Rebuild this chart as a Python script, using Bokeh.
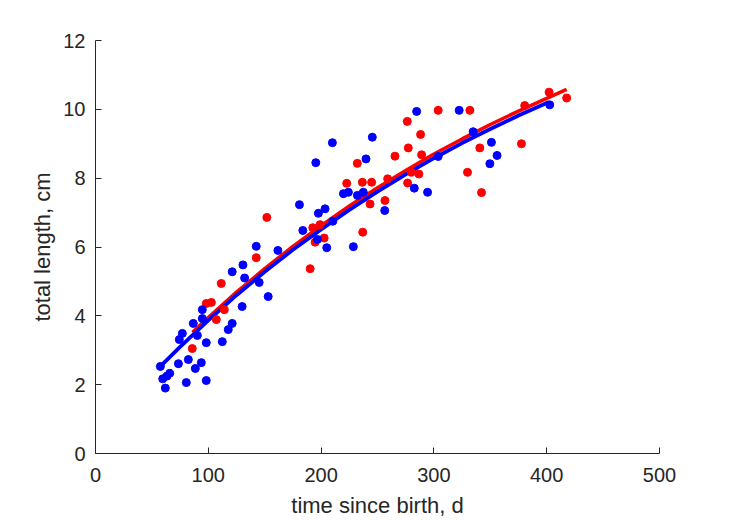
from bokeh.plotting import figure
from bokeh.models import FixedTicker, Range1d
from bokeh.embed import file_html
from bokeh.resources import INLINE

# ---- data ----
blue_t = [57.5, 59.6, 61.9, 63.4, 65.8, 73.5, 80.5, 82.3, 88.5, 93.8, 98.2,
          74.3, 77.0, 86.7, 90.3, 98.2, 94.7, 94.7, 112.4, 117.7, 121.2, 130.0,
          145.1, 153.1, 132.2, 142.5, 161.7, 130.7, 121.2, 180.8, 183.8, 197.6,
          203.5, 210.4, 196.7, 205.0, 219.8, 224.2, 232.2, 237.4, 256.4, 228.6,
          210.0, 195.3, 245.4, 239.8, 284.7, 322.4, 303.8, 334.8, 351.0, 356.0,
          349.6, 402.7, 282.6, 294.4]
blue_len = [2.53, 2.17, 1.90, 2.25, 2.33, 2.61, 2.06, 2.73, 2.47, 2.64, 2.12,
            3.31, 3.49, 3.78, 3.43, 3.22, 3.92, 4.18, 3.25, 3.60, 3.78, 4.27,
            4.97, 4.56, 5.10, 6.02, 5.90, 5.48, 5.28, 7.23, 6.48, 6.98,
            7.11, 6.75, 6.22, 5.98, 7.55, 7.59, 7.50, 7.59, 7.06, 6.01,
            9.03, 8.45, 9.19, 8.56, 9.94, 9.97, 8.63, 9.35, 9.04, 8.66,
            8.42, 10.13, 7.71, 7.59]

red_t = [111.5, 98.2, 102.7, 114.2, 107.1, 85.8, 151.9, 142.5, 192.6, 199.1,
         194.7, 202.7, 190.3, 222.7, 236.6, 244.8, 243.4, 256.6, 236.9, 259.0,
         232.1, 265.5, 303.8, 331.9, 276.4, 288.2, 277.3, 289.1, 340.7, 377.6,
         329.8, 402.1, 417.7, 380.5, 280.0, 286.7, 276.7, 342.2]
red_len = [4.94, 4.36, 4.39, 4.18, 3.89, 3.05, 6.86, 5.69, 6.56, 6.65,
           6.14, 6.26, 5.37, 7.85, 7.88, 7.88, 7.25, 7.35, 6.43, 7.98,
           8.43, 8.64, 9.97, 9.97, 9.65, 9.27, 8.88, 8.68, 8.88, 9.00,
           8.17, 10.50, 10.33, 10.11, 8.17, 8.12, 7.86, 7.58]

# fitted growth curves
blue_fit_t = [57.5, 75, 100, 125, 150, 175, 200, 225, 250, 275, 300, 325, 350, 375, 402]
blue_fit_len = [2.53, 3.10, 3.87, 4.60, 5.28, 5.92, 6.51, 7.08, 7.61, 8.11, 8.58, 9.02, 9.43, 9.82, 10.21]
red_fit_t = [86, 100, 125, 150, 175, 200, 225, 250, 275, 300, 325, 350, 375, 400, 417.7]
red_fit_len = [3.52, 3.95, 4.69, 5.37, 6.02, 6.62, 7.19, 7.72, 8.22, 8.70, 9.14, 9.56, 9.95, 10.32, 10.58]

x_ticks = [0, 100, 200, 300, 400, 500]
y_ticks = [0, 2, 4, 6, 8, 10, 12]

FONT = "Liberation Sans"
DARK = "#262626"

p = figure(width=729, height=521, output_backend="svg", toolbar_location=None,
           x_range=Range1d(0, 500), y_range=Range1d(0, 12),
           min_border_left=95, min_border_right=70, min_border_top=40, min_border_bottom=68)
p.outline_line_color = None
p.grid.visible = False
p.background_fill_color = "white"
p.border_fill_color = "white"

p.line(red_fit_t, red_fit_len, line_color="#FF0000", line_width=3.5)
p.line(blue_fit_t, blue_fit_len, line_color="#0000FF", line_width=3.8)
p.scatter(red_t, red_len, size=8, fill_color="#FF0000", line_color="#FF0000")
p.scatter(blue_t, blue_len, size=8, fill_color="#0000FF", line_color="#0000FF")

for ax, ticks in ((p.xaxis, x_ticks), (p.yaxis, y_ticks)):
    ax.ticker = FixedTicker(ticks=ticks)
    ax.axis_line_color = DARK
    ax.axis_line_width = 1
    ax.major_tick_line_color = DARK
    ax.major_tick_in = 6
    ax.major_tick_out = 0
    ax.minor_tick_line_color = None
    ax.major_label_text_font = FONT
    ax.major_label_text_font_size = "20px"
    ax.major_label_text_color = DARK
    ax.axis_label_text_font = FONT
    ax.axis_label_text_font_size = "22px"
    ax.axis_label_text_font_style = "normal"
    ax.axis_label_text_color = DARK

p.xaxis.axis_label = "time since birth, d"
p.yaxis.axis_label = "total length, cm"
p.xaxis.major_label_standoff = 14
p.yaxis.major_label_standoff = 10
p.xaxis.axis_label_standoff = 8
p.yaxis.axis_label_standoff = 5

open("out.html", "w").write(file_html(p, INLINE))
